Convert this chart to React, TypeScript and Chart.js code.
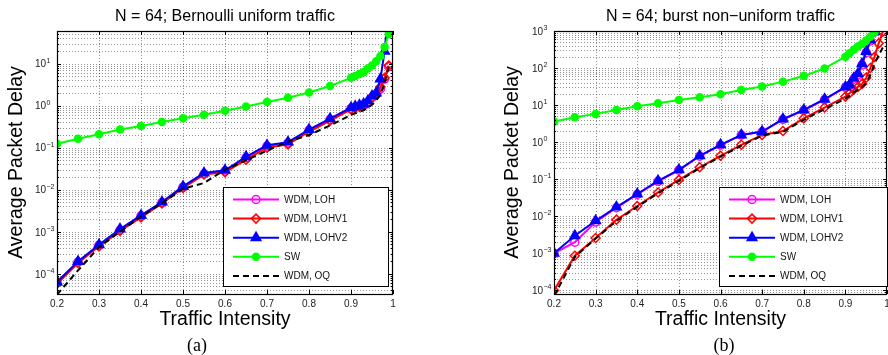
import React, { useEffect, useRef } from 'react';
import { Chart, registerables } from 'chart.js';

Chart.register(...registerables);

const FONT = '"Liberation Sans", Arial, Helvetica, sans-serif';
const SERIF = '"Liberation Serif", "Times New Roman", serif';

// ---------------- data ----------------
const loads = [0.2, 0.25, 0.3, 0.35, 0.4, 0.45, 0.5, 0.55, 0.6, 0.65, 0.7, 0.75, 0.8, 0.85, 0.9, 0.91, 0.92, 0.93, 0.94, 0.95, 0.96, 0.97, 0.98, 0.99];
const xTickValues = [0.2, 0.3, 0.4, 0.5, 0.6, 0.7, 0.8, 0.9, 1];
const seriesNames = ['WDM, LOH', 'WDM, LOHV1', 'WDM, LOHV2', 'SW', 'WDM, OQ'];
const xAxisTitle = 'Traffic Intensity';
const yAxisTitle = 'Average Packet Delay';

// (a) Bernoulli uniform traffic
const uniformTitle = 'N = 64; Bernoulli uniform traffic';
const uniformDecades = [1e-4, 1e-3, 1e-2, 1e-1, 1, 10];
const uniformLOH = [6.5e-5, 1.9e-4, 4.8e-4, 1.1e-3, 2.4e-3, 5.0e-3, 0.0115, 0.024, 0.028, 0.058, 0.11, 0.13, 0.26, 0.47, 0.86, 0.92, 0.98, 1.05, 1.2, 1.55, 1.9, 2.5, 4.3, 8.5];
const uniformLOHV1 = [5.8e-5, 1.8e-4, 4.5e-4, 1.05e-3, 2.2e-3, 4.7e-3, 0.011, 0.023, 0.026, 0.052, 0.1, 0.12, 0.24, 0.44, 0.82, 0.88, 0.94, 1.0, 1.15, 1.6, 1.9, 2.8, 4.6, 9.0];
const uniformLOHV2 = [6.3e-5, 1.97e-4, 4.9e-4, 1.16e-3, 2.45e-3, 5.1e-3, 0.012, 0.025, 0.029, 0.061, 0.114, 0.136, 0.27, 0.49, 0.9, 0.97, 1.03, 1.1, 1.3, 1.7, 2.0, 4.3, 19.7, 250];
const uniformSW = [0.124, 0.164, 0.21, 0.27, 0.33, 0.41, 0.5, 0.61, 0.76, 0.96, 1.22, 1.55, 2.07, 2.94, 4.6, 5.1, 5.7, 6.3, 7.7, 9.1, 11.4, 15, 25, 51];
const uniformOQ = [3.2e-5, 1.2e-4, 4.3e-4, 1.0e-3, 2.3e-3, 4.8e-3, 0.0105, 0.0145, 0.03, 0.05, 0.085, 0.14, 0.2, 0.34, 0.6, 0.66, 0.72, 0.78, 0.9, 1.05, 1.35, 1.8, 3.5, 8.5];

// (b) burst non-uniform traffic
const burstTitle = 'N = 64; burst non\u2212uniform traffic';
const burstDecades = [1e-4, 1e-3, 1e-2, 1e-1, 1, 10, 100, 1000];
const burstLOH = [1.0e-3, 2.0e-3, 7.0e-3, 0.017, 0.039, 0.088, 0.175, 0.42, 0.83, 1.55, 1.9, 4.1, 7.2, 14, 30, 34, 50, 65, 120, 260, 540, 930, null, null];
const burstLOHV1 = [1.0e-4, 8.6e-4, 2.6e-3, 8.1e-3, 0.019, 0.044, 0.096, 0.21, 0.43, 0.85, 1.57, 2.0, 4.4, 8.6, 17, 21, 26, 31, 37, 55, 100, 200, 465, 960];
const burstLOHV2 = [1.0e-3, 3.0e-3, 7.6e-3, 0.0177, 0.04, 0.091, 0.18, 0.43, 0.85, 1.57, 1.93, 4.2, 7.4, 14.4, 31, 35, 53, 70, 130, 280, 570, 950, null, null];
const burstSW = [3.6, 4.7, 5.8, 7.4, 9.3, 11.2, 13.8, 16.3, 19.6, 25.7, 32, 43, 61, 98, 203, 250, 310, 380, 445, 550, 700, 920, null, null];
const burstOQ = [7e-5, 8e-4, 2.5e-3, 7.5e-3, 0.018, 0.042, 0.09, 0.2, 0.41, 0.8, 1.5, 1.9, 4.0, 7.8, 15, 18, 22, 26, 31, 40, 65, 130, 220, 360];

// ---------------- styles ----------------
type Marker = 'circle' | 'rectRot' | 'triangle' | null;
const seriesStyles: { color: string; marker: Marker; r: number; filled: boolean; dash: number[] }[] = [
  { color: '#ff00ff', marker: 'circle', r: 4, filled: false, dash: [] },
  { color: '#ff0000', marker: 'rectRot', r: 4.5, filled: false, dash: [] },
  { color: '#0000ff', marker: 'triangle', r: 5.5, filled: true, dash: [] },
  { color: '#00ff00', marker: 'circle', r: 3.5, filled: true, dash: [] },
  { color: '#000000', marker: null, r: 0, filled: false, dash: [6, 4] },
];

type Panel = {
  title: string;
  caption: string;
  captionX: number;
  yMin: number;
  yMax: number;
  decades: number[];
  series: (number | null)[][];
  plotLeft: number;
  padRight: number;
  yTitlePad: number;
  legend: { x: number; y: number; w: number; h: number };
};

const panels: Panel[] = [
  {
    title: uniformTitle, caption: '(a)', captionX: 197,
    yMin: 3.3e-5, yMax: 60, decades: uniformDecades,
    series: [uniformLOH, uniformLOHV1, uniformLOHV2, uniformSW, uniformOQ],
    plotLeft: 57, padRight: 51, yTitlePad: 5.3,
    legend: { x: 223, y: 187, w: 166, h: 100 },
  },
  {
    title: burstTitle, caption: '(b)', captionX: 280,
    yMin: 8e-5, yMax: 1000, decades: burstDecades,
    series: [burstLOH, burstLOHV1, burstLOHV2, burstSW, burstOQ],
    plotLeft: 110, padRight: 1, yTitlePad: 57.3,
    legend: { x: 275, y: 187, w: 169, h: 100 },
  },
];

function drawMarker(ctx: CanvasRenderingContext2D, m: Marker, x: number, y: number, r: number, color: string, filled: boolean) {
  if (!m) return;
  ctx.save();
  ctx.setLineDash([]);
  ctx.lineWidth = 1.5;
  ctx.strokeStyle = color;
  ctx.fillStyle = color;
  ctx.beginPath();
  if (m === 'circle') {
    ctx.arc(x, y, r, 0, Math.PI * 2);
  } else if (m === 'rectRot') {
    ctx.moveTo(x, y - r);
    ctx.lineTo(x + r, y);
    ctx.lineTo(x, y + r);
    ctx.lineTo(x - r, y);
    ctx.closePath();
  } else if (m === 'triangle') {
    ctx.moveTo(x, y - r);
    ctx.lineTo(x + r * 0.866, y + r * 0.5);
    ctx.lineTo(x - r * 0.866, y + r * 0.5);
    ctx.closePath();
  }
  if (filled) ctx.fill();
  ctx.stroke();
  ctx.restore();
}

function yGridValues(min: number, max: number) {
  const out: { v: number; major: boolean }[] = [];
  for (let e = Math.floor(Math.log10(min)); e <= Math.ceil(Math.log10(max)); e++) {
    for (let k = 1; k <= 9; k++) {
      const v = k * Math.pow(10, e);
      if (v > min * 1.0001 && v < max * 0.9999) out.push({ v, major: k === 1 });
    }
  }
  return out;
}

function makePlugin(p: Panel) {
  return {
    id: 'matlabFrame',
    beforeDatasetsDraw(chart: any) {
      const { ctx, chartArea: a, scales } = chart;
      const xs = scales.x, ys = scales.y;
      ctx.save();
      ctx.strokeStyle = 'rgba(0,0,0,0.42)';
      ctx.lineWidth = 1;
      ctx.setLineDash([1, 2]);
      ctx.beginPath();
      for (const v of xTickValues) {
        if (v <= 0.2 || v >= 1) continue;
        const px = Math.round(xs.getPixelForValue(v)) + 0.5;
        ctx.moveTo(px, a.top);
        ctx.lineTo(px, a.bottom);
      }
      for (const g of yGridValues(p.yMin, p.yMax)) {
        const py = Math.round(ys.getPixelForValue(g.v)) + 0.5;
        ctx.moveTo(a.left, py);
        ctx.lineTo(a.right, py);
      }
      ctx.stroke();
      ctx.restore();
    },
    afterDatasetsDraw(chart: any) {
      const { ctx, chartArea: a, scales } = chart;
      const xs = scales.x, ys = scales.y;
      ctx.save();
      // tick marks
      ctx.strokeStyle = '#000';
      ctx.lineWidth = 1;
      ctx.setLineDash([]);
      ctx.beginPath();
      for (const g of yGridValues(p.yMin, p.yMax)) {
        const py = Math.round(ys.getPixelForValue(g.v)) + 0.5;
        const len = g.major ? 4 : 2;
        ctx.moveTo(a.left, py); ctx.lineTo(a.left + len, py);
        ctx.moveTo(a.right, py); ctx.lineTo(a.right - len, py);
      }
      for (const v of xTickValues) {
        const px = Math.round(xs.getPixelForValue(v)) + 0.5;
        ctx.moveTo(px, a.bottom); ctx.lineTo(px, a.bottom - 4);
        ctx.moveTo(px, a.top); ctx.lineTo(px, a.top + 4);
      }
      ctx.stroke();
      // frame
      ctx.lineWidth = 1.2;
      ctx.strokeRect(Math.round(a.left) + 0.5, Math.round(a.top) + 0.5, Math.round(a.right) - Math.round(a.left) - 1, Math.round(a.bottom) - Math.round(a.top));

      // y tick labels (10 with superscript exponent)
      ctx.fillStyle = '#222';
      ctx.textBaseline = 'middle';
      for (const d of p.decades) {
        const py = ys.getPixelForValue(d);
        const e = Math.round(Math.log10(d));
        const expStr = e < 0 ? '\u2212' + String(-e) : String(e);
        const baseRight = a.left - 11;
        ctx.font = `10px ${FONT}`;
        ctx.textAlign = 'right';
        ctx.fillText('10', baseRight, py + 1);
        ctx.font = `7px ${FONT}`;
        ctx.textAlign = 'left';
        ctx.fillText(expStr, baseRight + 0.5, py - 3);
      }

      // legend
      const L = p.legend;
      ctx.fillStyle = '#fff';
      ctx.fillRect(L.x, L.y, L.w, L.h);
      ctx.strokeStyle = '#000';
      ctx.lineWidth = 1;
      ctx.strokeRect(L.x + 0.5, L.y + 0.5, L.w - 1, L.h - 1);
      seriesNames.forEach((name, i) => {
        const st = seriesStyles[i];
        const y = L.y + 12.5 + i * 19.1;
        ctx.save();
        ctx.strokeStyle = st.color;
        ctx.lineWidth = 2;
        ctx.setLineDash(st.dash);
        ctx.beginPath();
        ctx.moveTo(L.x + 10, y);
        ctx.lineTo(L.x + 56, y);
        ctx.stroke();
        ctx.restore();
        drawMarker(ctx, st.marker, L.x + 33, y, st.r, st.color, st.filled);
        ctx.fillStyle = '#111';
        ctx.font = `10px ${FONT}`;
        ctx.textAlign = 'left';
        ctx.textBaseline = 'middle';
        ctx.fillText(name, L.x + 61, y + 0.5);
      });

      // caption
      ctx.fillStyle = '#000';
      ctx.font = `18px ${SERIF}`;
      ctx.textAlign = 'center';
      ctx.textBaseline = 'middle';
      ctx.fillText(p.caption, p.captionX, 346);
      ctx.restore();
    },
  };
}

function PanelChart({ p, left }: { p: Panel; left: number }) {
  const ref = useRef<HTMLCanvasElement | null>(null);
  useEffect(() => {
    if (!ref.current) return;
    const datasets = p.series.map((vals, i) => {
      const st = seriesStyles[i];
      const pts = loads
        .map((x, j) => ({ x, y: vals[j] }))
        .filter((pt) => pt.y !== null && pt.y !== undefined);
      return {
        label: seriesNames[i],
        data: pts,
        borderColor: st.color,
        backgroundColor: st.color,
        borderWidth: 2,
        borderDash: st.dash,
        pointStyle: st.marker || 'circle',
        pointRadius: st.marker ? st.r : 0,
        pointBorderWidth: 1.5,
        pointBorderColor: st.color,
        pointBackgroundColor: st.filled ? st.color : 'rgba(0,0,0,0)',
        tension: 0,
        order: 5 - i,
      };
    });
    const chart = new Chart(ref.current, {
      type: 'line',
      data: { datasets },
      options: {
        responsive: false,
        animation: false,
        devicePixelRatio: 1,
        layout: { autoPadding: false, padding: { left: 0, right: p.padRight, top: 0, bottom: 0 } },
        plugins: {
          legend: { display: false },
          tooltip: { enabled: false },
          title: {
            display: true,
            text: p.title,
            fullSize: false,
            color: '#000',
            font: { size: 16, family: FONT, weight: 'normal' },
            padding: { top: 6.5, bottom: 5.3 },
          },
        },
        scales: {
          x: {
            type: 'linear',
            min: 0.2,
            max: 1,
            afterBuildTicks: (s: any) => { s.ticks = xTickValues.map((v) => ({ value: v })); },
            afterFit: (s: any) => { s.height = 61; s.paddingLeft = 0; s.paddingRight = 0; },
            ticks: {
              autoSkip: false,
              maxRotation: 0,
              minRotation: 0,
              padding: 4,
              color: '#222',
              font: { size: 10, family: FONT },
              callback: (v: any) => (Math.abs(v - 1) < 1e-9 ? '1' : Number(v).toFixed(1)),
            },
            grid: { display: false, drawTicks: false },
            border: { display: false },
            title: {
              display: true,
              text: xAxisTitle,
              color: '#000',
              font: { size: 19.5, family: FONT },
              padding: { top: 0, bottom: 23.8 },
            },
          },
          y: {
            type: 'logarithmic',
            min: p.yMin,
            max: p.yMax,
            afterBuildTicks: (s: any) => { s.ticks = p.decades.map((v) => ({ value: v })); },
            afterFit: (s: any) => { s.width = p.plotLeft; s.paddingTop = 0; s.paddingBottom = 0; },
            ticks: { display: false },
            grid: { display: false, drawTicks: false },
            border: { display: false },
            title: {
              display: true,
              text: yAxisTitle,
              color: '#000',
              font: { size: 19.5, family: FONT },
              padding: { top: p.yTitlePad, bottom: 0 },
            },
          },
        },
      } as any,
      plugins: [makePlugin(p)],
    });
    return () => chart.destroy();
  }, [p]);
  return (
    <canvas
      ref={ref}
      width={444}
      height={355}
      style={{ position: 'absolute', left, top: 0, width: 444, height: 355 }}
    />
  );
}

export default function App() {
  return (
    <div style={{ position: 'absolute', left: 0, top: 0, width: 888, height: 355, background: '#fff', overflow: 'hidden' }}>
      <PanelChart p={panels[0]} left={0} />
      <PanelChart p={panels[1]} left={444} />
    </div>
  );
}
